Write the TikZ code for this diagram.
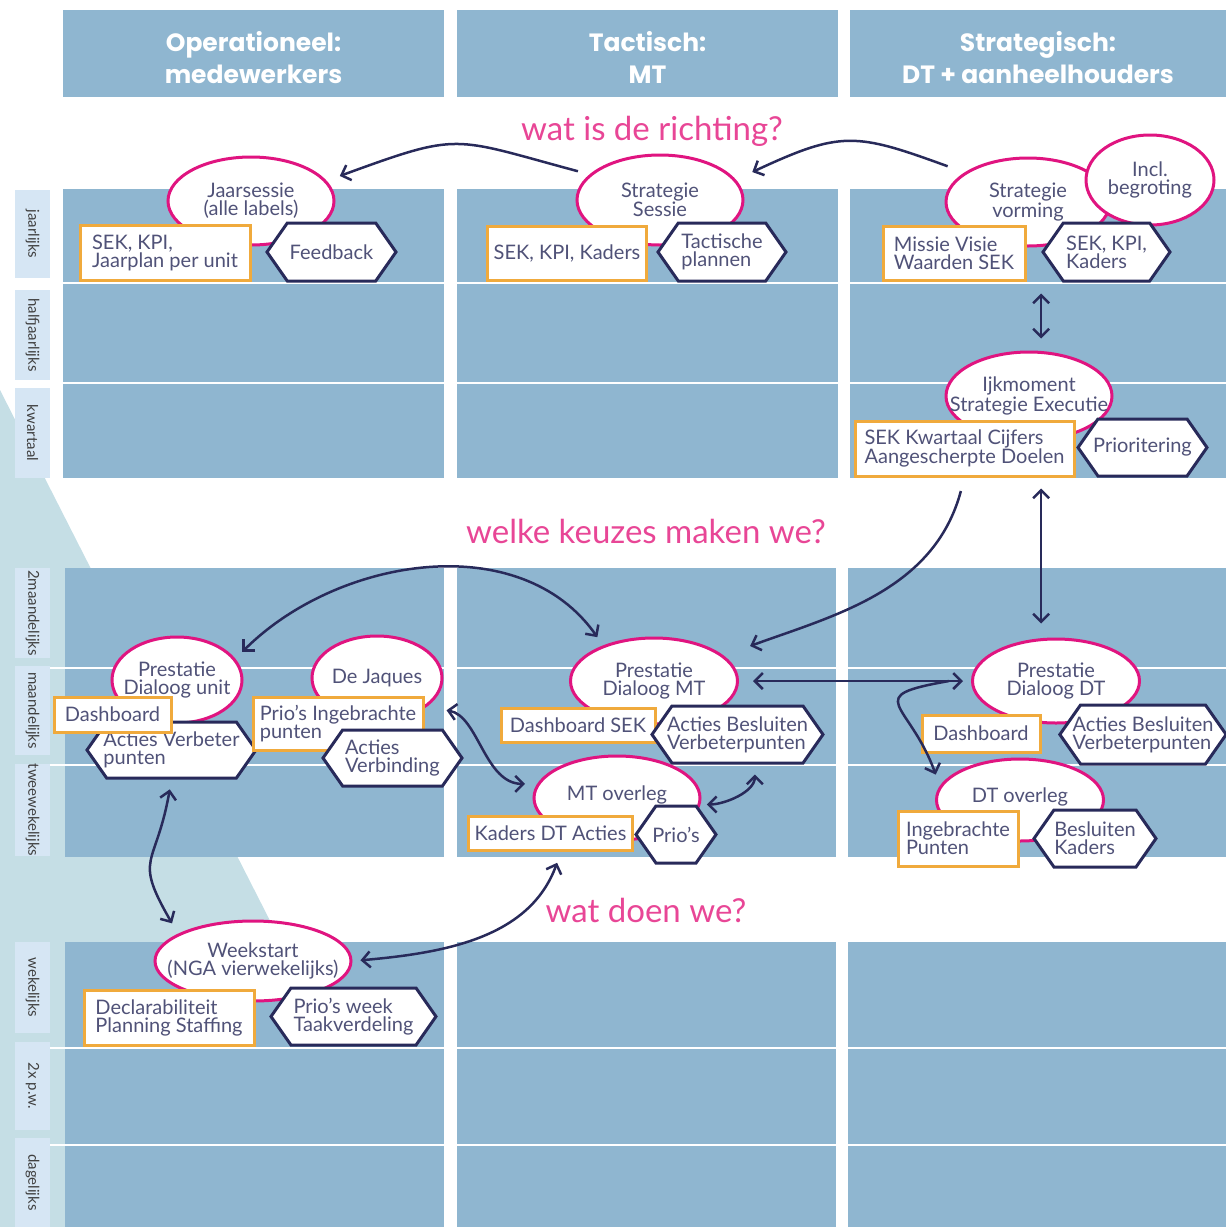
\documentclass[tikz,border=0pt]{standalone}
\usepackage{fontspec}
\setmainfont{Lato}
\newfontfamily\kopfont{Poppins}
\usetikzlibrary{arrows.meta}
\usetikzlibrary{shapes.geometric,shapes.symbols}

\definecolor{paneel}{HTML}{8FB6D0}
\definecolor{wig}{HTML}{C5DEE5}
\definecolor{rijvak}{HTML}{D6E6F4}
\definecolor{magenta}{HTML}{E01480}
\definecolor{vraagkleur}{HTML}{E84696}
\definecolor{oranje}{HTML}{F0AA3C}
\definecolor{navy}{HTML}{282A5A}
\definecolor{tekst}{HTML}{505278}

\begin{document}
\begin{tikzpicture}
	[x=1pt,y=-1pt,
	kop/.style={text=white,font=\kopfont\bfseries\fontsize{25}{32}\selectfont,align=center,inner sep=0},
	rij/.style={fill=rijvak,text=black!75,font=\fontsize{15}{15}\selectfont,rotate=-90,minimum height=35,inner sep=0},
	vraag/.style={text=vraagkleur,font=\fontsize{33}{33}\selectfont},
	sessie/.style={ellipse,draw=magenta,line width=3,fill=white,text=tekst,align=center,inner xsep=-30,inner ysep=-12,font=\fontsize{20}{18}\selectfont},
	invoer/.style={rectangle,draw=oranje,line width=3,fill=white,text=tekst,align=left,inner xsep=6,inner ysep=0,font=\fontsize{20}{18}\selectfont},
	uitkomst/.style={signal,signal to=east and west,signal pointer angle=110,draw=navy,line width=3,fill=white,text=tekst,align=left,inner xsep=-8,inner ysep=0,font=\fontsize{20}{18}\selectfont},
	>={Straight Barb[length=8pt,width=16pt]},
	pijl/.style={draw=navy,line width=2.5}]

	\useasboundingbox (0,0) rectangle (1226,1227);
	\fill[wig] (0,390) -- (290,960) -- (290,1227) -- (0,1227) -- cycle;

	% kolommen
	\foreach \xa/\xb in {63/444, 457/838, 850/1226}
		{\fill[paneel] (\xa,10) rectangle (\xb,97);
		\fill[paneel] (\xa,189) rectangle (\xb,478);}
	\foreach \xa/\xb in {65/444, 457/836, 848/1226}
		{\fill[paneel] (\xa,568) rectangle (\xb,857);
		\fill[paneel] (\xa,942) rectangle (\xb,1227);}
	\foreach \y in {283, 383}
		\draw[white,line width=1.2] (63,\y) -- (1226,\y);
	\foreach \y in {668, 765, 1048, 1145}
		\draw[white,line width=1.2] (50,\y) -- (1226,\y);
	\node[kop] (kop1) at (253.5,57.5) {Operationeel:\\medewerkers};
	\node[kop] (kop2) at (647.5,57.5) {Tactisch:\\MT};
	\node[kop] (kop3) at (1038,57.5) {Strategisch:\\DT + aanheelhouders};

	% frequenties
	\foreach \t/\y/\h [count=\i] in {jaarlijks/234/88, halfjaarlijks/335/90, kwartaal/433/90,
		2maandelijks/613/90, maandelijks/710.5/89, tweewekelijks/810/90,
		wekelijks/987.5/91, 2x p.w./1086/88, dagelijks/1182.5/89}
		\node[rij,minimum width=\h] (rij\i) at (32.5,\y) {\t};

	\node[vraag] (v1) at (652,131) {wat is de richting?};
	\node[vraag] (v2) at (646,531) {welke keuzes maken we?};
	\node[vraag] (v3) at (646,910) {wat doen we?};

	% jaarlijks
	\node[sessie,minimum width=166,minimum height=88] (js) at (251,201) {Jaarsessie\\(alle labels)};
	\node[invoer,minimum width=170,minimum height=55] (jpu) at (165,252.5) {SEK, KPI,\\Jaarplan per unit};
	\node[uitkomst,minimum width=129,minimum height=58] (fb) at (331.5,252) {Feedback};
	\node[sessie,minimum width=166,minimum height=90] (ss) at (660,200) {Strategie\\Sessie};
	\node[invoer,minimum width=150,minimum height=54] (skk1) at (567,253) {SEK, KPI, Kaders};
	\node[uitkomst,minimum width=128,minimum height=58] (tp) at (722,252) {Tactische\\plannen};
	\node[sessie,minimum width=164,minimum height=88] (sv) at (1028,202) {Strategie\\vorming};
	\node[sessie,minimum width=128,minimum height=90] (ib) at (1150,180) {Incl.\\begroting};
	\node[invoer,minimum width=142,minimum height=54] (mvw) at (954,253) {Missie Visie\\Waarden SEK};
	\node[uitkomst,minimum width=127,minimum height=58] (skk) at (1106.5,252) {SEK, KPI,\\Kaders};

	% kwartaal
	\node[sessie,minimum width=166,minimum height=88] (ijk) at (1029,396) {Ijkmoment\\Strategie Executie};
	\node[invoer,minimum width=219,minimum height=55] (kwc) at (964.5,448.5) {SEK Kwartaal Cijfers\\Aangescherpte Doelen};
	\node[uitkomst,minimum width=129,minimum height=57] (pri) at (1142.5,447.5) {Prioritering};

	% maandelijks
	\node[sessie,minimum width=130,minimum height=86] (pdu) at (177,680) {Prestatie\\Dialoog unit};
	\node[uitkomst,minimum width=169,minimum height=56] (avp) at (171.5,750) {Acties Verbeter\\punten};
	\node[invoer,minimum width=117,minimum height=35] (dsh1) at (112.5,714.5) {Dashboard};
	\node[sessie,minimum width=130,minimum height=84] (dj) at (377,678) {De Jaques};
	\node[invoer,minimum width=170,minimum height=53] (pib) at (338,723.5) {Prio's Ingebrachte\\punten};
	\node[uitkomst,minimum width=139,minimum height=56] (av) at (392.5,758) {Acties\\Verbinding};
	\node[sessie,minimum width=167,minimum height=86] (pdm) at (654,681) {Prestatie\\Dialoog MT};
	\node[invoer,minimum width=154,minimum height=34] (dsek) at (578,725) {Dashboard SEK};
	\node[uitkomst,minimum width=171,minimum height=57] (abm) at (737.5,734.5) {Acties Besluiten\\Verbeterpunten};
	\node[sessie,minimum width=167,minimum height=84] (pdd) at (1056,681) {Prestatie\\Dialoog DT};
	\node[invoer,minimum width=118,minimum height=37] (dsh3) at (981,733.5) {Dashboard};
	\node[uitkomst,minimum width=166,minimum height=59] (abd) at (1143,734.5) {Acties Besluiten\\Verbeterpunten};

	% tweewekelijks
	\node[sessie,minimum width=166,minimum height=84] (mto) at (617,798) {MT overleg\\[-8pt]\mbox{}};
	\node[invoer,minimum width=161,minimum height=34] (kdt) at (550.5,833) {Kaders DT Acties};
	\node[uitkomst,minimum width=80,minimum height=57] (pr) at (676,834.5) {Prio's};
	\node[sessie,minimum width=167,minimum height=82] (dto) at (1020,800) {DT overleg\\[-8pt]\mbox{}};
	\node[invoer,minimum width=120,minimum height=55] (ibp) at (958,838.5) {Ingebrachte\\Punten};
	\node[uitkomst,minimum width=122,minimum height=57] (bk) at (1095,838.5) {Besluiten\\Kaders};

	% wekelijks
	\node[sessie,minimum width=196,minimum height=80] (ws) at (253,961) {Weekstart\\(NGA vierwekelijks)};
	\node[invoer,minimum width=170,minimum height=55] (dps) at (169,1017.5) {Declarabiliteit\\Planning Staffing};
	\node[uitkomst,minimum width=165,minimum height=57] (ptk) at (353.5,1016.5) {Prio's week\\Taakverdeling};

	% verbindingen
	\draw[pijl,->,shorten <=18,shorten >=18] (sv.155) to[out=160,in=25,looseness=1.3] (ss.15);
	\draw[pijl,->,shorten <=12,shorten >=14] (ss.160) to[out=165,in=20,looseness=1.4] (js.15);
	\draw[pijl,<->,shorten <=12,shorten >=12] (skk.west |- mvw.south) -- (skk.west |- ijk.north);
	\draw[pijl,<->,shorten <=11,shorten >=14] (skk.west |- kwc.south) -- (skk.west |- pdd.north);
	\draw[pijl,->,shorten <=14,shorten >=28] (kwc.south) to[out=-105,in=20] (pdm.20);
	\draw[pijl,<->,shorten <=10,shorten >=10] (pdu.20) to[out=45,in=125] (pdm.145);
	\draw[pijl,<->,shorten <=10,shorten >=12] (avp.south) to[out=-100,in=120,looseness=1.5] (ws.160);
	\draw[pijl,<->,shorten <=20,shorten >=12] (dj.-30) to[out=-10,in=180] (mto.170);
	\draw[pijl,<->,shorten <=10,shorten >=10] (pr.north east) to[out=0,in=-90] (abm.-60);
	\draw[pijl,<->,shorten <=14,shorten >=8] (pdm.east) -- (pdd.west);
	\draw[pijl,->,shorten >=12] ([xshift=-22]pdd.west) to[out=190,in=110,looseness=2.2] (dto.170);
	\draw[pijl,<->,shorten <=8,shorten >=12] (ws.east) to[out=5,in=-110] (kdt.-60);
\end{tikzpicture}
\end{document}
